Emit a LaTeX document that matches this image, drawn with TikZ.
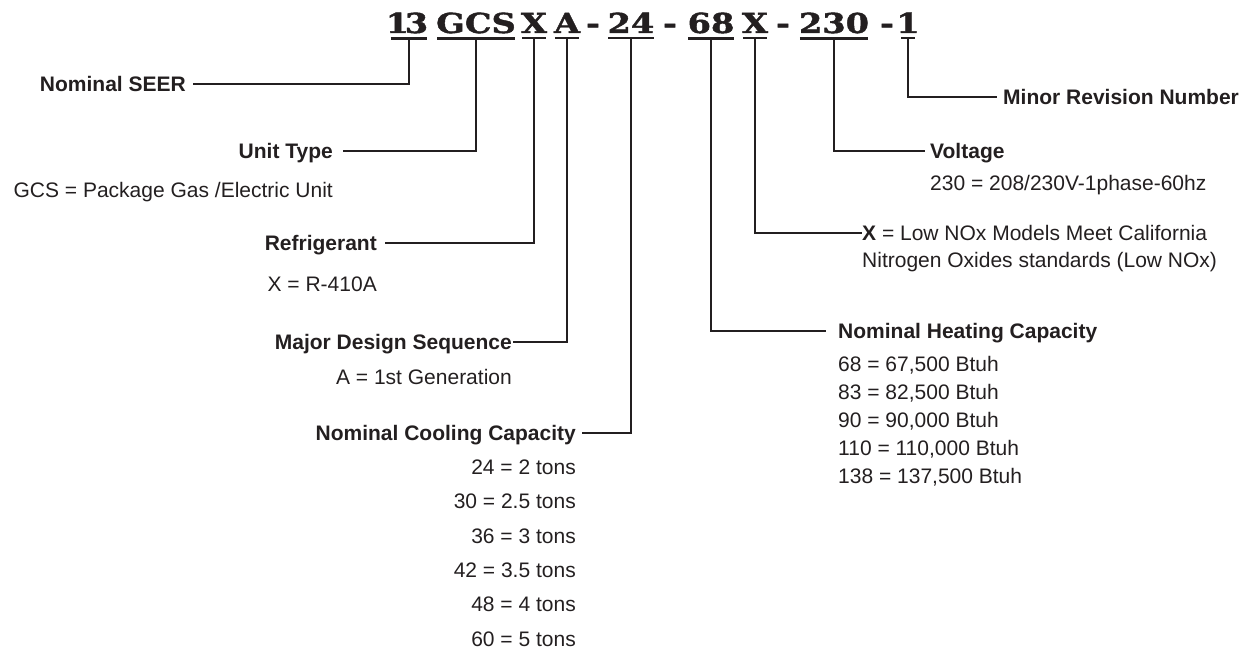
\documentclass[tikz,border=0pt]{standalone}
\usepackage{fontspec}
\setmainfont{Liberation Sans}
\newfontfamily\codefont[FakeStretch=1.22,BoldFeatures={FakeBold=1.6}]{DejaVu Serif}
\usepackage{tikz}
\definecolor{ink}{HTML}{231F20}
\newcommand{\slimone}{\makebox[15pt]{1}}

\begin{document}
\begin{tikzpicture}[x=1pt, y=-1pt,
    code/.style={font=\fontsize{27.5}{30}\selectfont\codefont\bfseries, inner sep=0pt, anchor=base, text=ink},
    head/.style={font=\fontsize{21}{25}\selectfont\bfseries, inner sep=0pt, text height=15pt, text depth=0pt, text=ink},
    desc/.style={font=\fontsize{21}{25}\selectfont, inner sep=0pt, text height=15pt, text depth=0pt, text=ink},
    list/.style={font=\fontsize{21}{#1}\selectfont, inner sep=0pt, text=ink},
    uline/.style={ink, line width=2.2pt},
    lead/.style={ink, line width=2.2pt}]
    \useasboundingbox (0,0) rectangle (1253,650);
    \node[code] (c13) at (409,33) {\slimone 3};
    \node[code] (cgcs) at (476,33) {GCS};
    \node[code] (cx) at (534,33) {X};
    \node[code] (ca) at (567,33) {A};
    \node[code] (d1) at (593,33) {-};
    \node[code] (c24) at (631,33) {24};
    \node[code] (d2) at (670,33) {-};
    \node[code] (c68) at (711,33) {68};
    \node[code] (cx2) at (755,33) {X};
    \node[code] (d3) at (783,33) {-};
    \node[code] (c230) at (834,33) {230};
    \node[code] (d4) at (887,33) {-};
    \node[code] (c1) at (908,33) {\slimone};
    \foreach \s in {c13,cgcs,cx,ca,c24,c68,cx2,c230,c1}
      \draw[uline] ([xshift=1pt,yshift=-5pt]\s.south west) -- ([xshift=-1pt,yshift=-5pt]\s.south east);

    \node[head, anchor=east] (seer) at (186,84) {Nominal SEER};
    \node[head, anchor=east] (utype) at (333,151) {Unit Type};
    \node[desc, anchor=east] (utypedesc) at (333,190) {GCS = Package Gas /Electric Unit};
    \node[head, anchor=east] (refr) at (377,243) {Refrigerant};
    \node[desc, anchor=east] (refrdesc) at (377,284) {X = R-410A};
    \node[head, anchor=east] (mds) at (512,342) {Major Design Sequence};
    \node[desc, anchor=east] (mdsdesc) at (512,377) {A = 1st Generation};
    \node[head, anchor=east] (ncc) at (576,433) {Nominal Cooling Capacity};
    \node[list=34.4, anchor=north east, align=right] (ncclist) at (576,459.5)
      {24 = 2 tons\\30 = 2.5 tons\\36 = 3 tons\\42 = 3.5 tons\\48 = 4 tons\\60 = 5 tons};
    \node[head, anchor=west] (nhc) at (838,331) {Nominal Heating Capacity};
    \node[list=27.8, anchor=north west, align=left] (nhclist) at (838,356.5)
      {68 = 67,500 Btuh\\83 = 82,500 Btuh\\90 = 90,000 Btuh\\110 = 110,000 Btuh\\138 = 137,500 Btuh};
    \node[desc, anchor=west] (nox) at (862,233) {\textbf{X} = Low NOx Models Meet California};
    \node[desc, anchor=west] (nox2) at (862,260) {Nitrogen Oxides standards (Low NOx)};
    \node[head, anchor=west] (volt) at (930,151) {Voltage};
    \node[desc, anchor=west] (voltdesc) at (930,183) {230 = 208/230V-1phase-60hz};
    \node[head, anchor=west] (minor) at (1003,97) {Minor Revision Number};

    \draw[lead] ([yshift=-5pt]c13.south) |- ([xshift=7pt]seer.east);
    \draw[lead] ([yshift=-5pt]cgcs.south) |- ([xshift=10pt]utype.east);
    \draw[lead] ([yshift=-5pt]cx.south) |- ([xshift=8pt]refr.east);
    \draw[lead] ([yshift=-5pt]ca.south) |- ([xshift=1pt]mds.east);
    \draw[lead] ([yshift=-5pt]c24.south) |- ([xshift=6pt]ncc.east);
    \draw[lead] ([yshift=-5pt]c68.south) |- ([xshift=-12pt]nhc.west);
    \draw[lead] ([yshift=-5pt]cx2.south) |- (nox.west);
    \draw[lead] ([yshift=-5pt]c230.south) |- ([xshift=-5pt]volt.west);
    \draw[lead] ([yshift=-5pt]c1.south) |- ([xshift=-6pt]minor.west);
  \end{tikzpicture}
\end{document}
